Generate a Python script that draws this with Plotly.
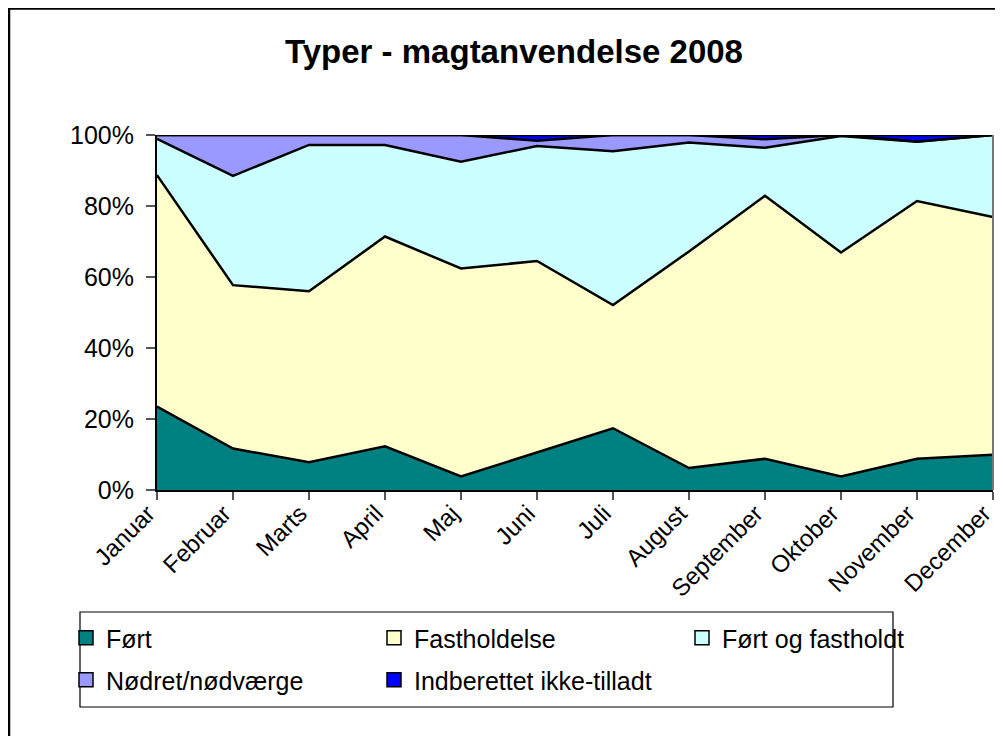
import plotly.graph_objects as go

months = ["Januar", "Februar", "Marts", "April", "Maj", "Juni", "Juli",
          "August", "September", "Oktober", "November", "December"]

fort = [23.5, 11.7, 7.8, 12.3, 3.8, 10.5, 17.4, 6.2, 8.8, 3.8, 8.8, 9.9]
fastholdelse = [65.2, 46.0, 48.2, 59.1, 58.6, 54.0, 34.7, 61.0, 74.1, 63.1, 72.6, 67.0]
fort_og_fastholdt = [10.2, 30.8, 41.2, 25.8, 30.1, 32.4, 43.3, 30.7, 13.5, 32.8, 16.7, 23.1]
nodret = [1.1, 11.5, 2.8, 2.8, 7.5, 1.5, 4.6, 2.1, 2.4, 0.3, 0.1, 0.0]
indberettet = [0.0, 0.0, 0.0, 0.0, 0.0, 1.6, 0.0, 0.0, 1.2, 0.0, 1.8, 0.0]

series_names = ["Ført", "Fastholdelse", "Ført og fastholdt",
                "Nødret/nødværge", "Indberettet ikke-tilladt"]
series_values = [fort, fastholdelse, fort_og_fastholdt, nodret, indberettet]
series_colors = ["#008080", "#FFFFCC", "#CCFFFF", "#9999FF", "#0000FF"]

FONT = "Liberation Sans, Arial, sans-serif"

# page body has an 8px margin: work in reference pixel coords, shift by OFF
OFF = 8
W, H = 1003 - OFF, 736 - OFF
PL, PR, PT, PB = 157, 993, 135, 490   # plot area in reference px
L, R, T, B = PL - OFF, W - (PR - OFF), PT - OFF, H - (PB - OFF)
pw = W - L - R
ph = H - T - B


def px(x):
    return (x - OFF - L) / pw


def py(y):
    return (H - B - (y - OFF)) / ph


fig = go.Figure()
for name, vals, col in zip(series_names, series_values, series_colors):
    fig.add_trace(go.Scatter(
        x=months, y=vals, name=name, mode="lines",
        stackgroup="one", groupnorm="percent",
        fillcolor=col, line=dict(color="black", width=2.5),
        showlegend=False, hoverinfo="x+y+name",
    ))

# legend entries (square swatches, two rows)
for i, (name, col) in enumerate(zip(series_names, series_colors)):
    fig.add_trace(go.Scatter(
        x=[None], y=[None], name=name, mode="markers",
        marker=dict(symbol="square", size=14, color=col,
                    line=dict(color="black", width=1.5)),
        legend="legend" if i < 3 else "legend2",
        showlegend=True,
    ))

leg_common = dict(orientation="h", xanchor="left", yanchor="middle",
                  entrywidth=263, entrywidthmode="pixels",
                  font=dict(size=25, family=FONT), borderwidth=0,
                  bgcolor="rgba(0,0,0,0)", traceorder="normal",
                  itemsizing="trace")

fig.update_layout(
    width=W, height=H,
    margin=dict(l=L, r=R, t=T, b=B, autoexpand=False),
    paper_bgcolor="white", plot_bgcolor="white",
    font=dict(family=FONT, color="black"),
    title=dict(text="<b>Typer - magtanvendelse 2008</b>",
               font=dict(size=33, family=FONT),
               x=px(514), xref="paper", xanchor="center",
               y=1 - (51 - OFF) / H, yref="container", yanchor="middle"),
    xaxis=dict(type="category", range=[0, 11], showgrid=False,
               ticks="outside", ticklen=8, tickcolor="#555", tickwidth=1.5,
               tickangle=-45, tickfont=dict(size=24),
               ticklabelshift=-9, ticklabelstandoff=-10,
               showline=True, linecolor="black", linewidth=2,
               zeroline=False, automargin=False),
    yaxis=dict(range=[0, 100], dtick=20, ticksuffix="%", showgrid=False,
               ticks="outside", ticklen=9, tickcolor="#555", tickwidth=1.5,
               tickfont=dict(size=25), ticklabelstandoff=7,
               showline=True, linecolor="black", linewidth=2,
               zeroline=False, automargin=False),
    legend=dict(x=px(66), y=py(638), **leg_common),
    legend2=dict(x=px(66), y=py(680), **leg_common),
    showlegend=True,
)

# outer chart frame
fig.add_shape(type="rect", xref="paper", yref="paper",
              x0=px(9), x1=px(1040), y0=py(780), y1=py(OFF + 0.5),
              line=dict(color="black", width=2.5), fillcolor="rgba(0,0,0,0)",
              layer="below")
# legend box
fig.add_shape(type="rect", xref="paper", yref="paper",
              x0=px(80), x1=px(893), y0=py(707), y1=py(612),
              line=dict(color="black", width=1.2), fillcolor="rgba(0,0,0,0)",
              layer="below")
# right edge of plot area
fig.add_shape(type="line", xref="paper", yref="paper",
              x0=1, x1=1, y0=0, y1=1, line=dict(color="#777", width=2))

fig.write_html("out.html")
